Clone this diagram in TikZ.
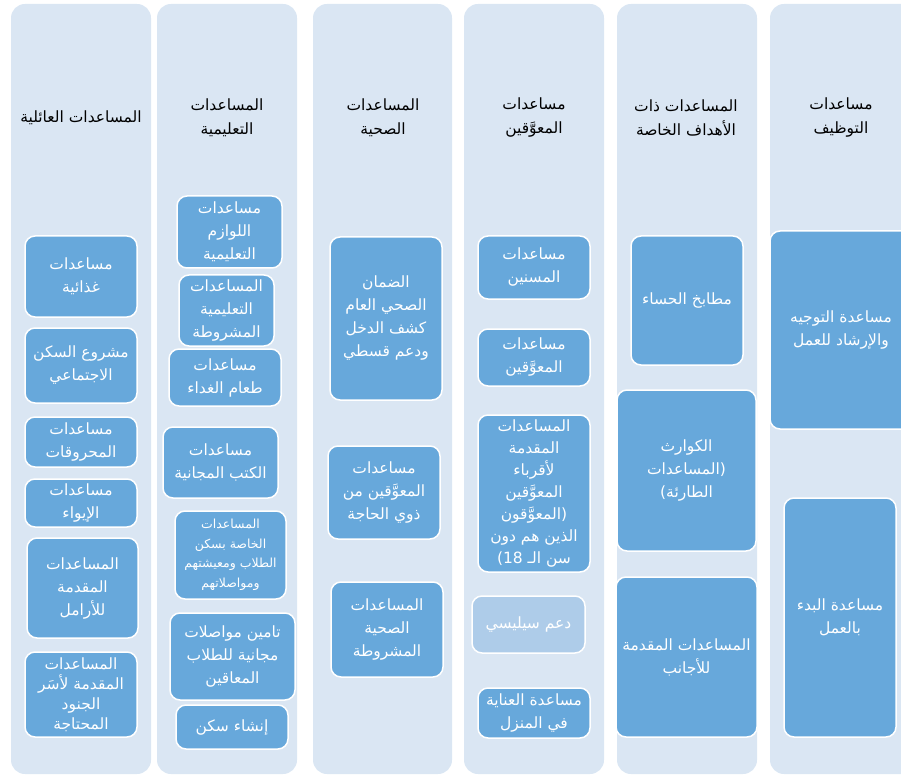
\documentclass[tikz,border=0pt]{standalone}
\usepackage{fontspec}
\newfontfamily\arabicfont[Script=Arabic]{DejaVu Sans}
\TeXXeTstate=1
\definecolor{colbg}{HTML}{DAE6F3}
\definecolor{boxblue}{HTML}{67A8DB}
\definecolor{boxlight}{HTML}{AECCE9}
\newcommand\ar[1]{\beginR #1\endR}
\tikzset{
  column/.style={fill=colbg, draw=none, rounded corners=14pt},
  box/.style={fill=boxblue, draw=white, line width=1.5pt, rounded corners=10pt, inner sep=0pt,
     text=white, shape=rectangle, align=center, font=\arabicfont\fontsize{15.5}{23}\selectfont},
  lightbox/.style={fill=boxlight},
  smalltext/.style={font=\arabicfont\fontsize{12.5}{19.5}\selectfont},
  tighttext/.style={font=\arabicfont\fontsize{15.5}{20}\selectfont},
  d3text/.style={font=\arabicfont\fontsize{15.5}{22}\selectfont},
  head/.style={inner sep=0pt, text=black, align=center, minimum width=120pt, minimum height=46pt,
     font=\arabicfont\fontsize{15.5}{24}\selectfont}
}
\newcommand\mybox[7][]{%
  \node[box,#1, minimum width={(#5-#3)*1pt}, minimum height={(#6-#4)*1pt}] (#2) at ({(#3+#5)/2},{(#4+#6)/2}) {#7};}
\begin{document}
\begin{tikzpicture}[x=1pt,y=-1pt]
\useasboundingbox (0,0) rectangle (901,775);
\clip (0,0) rectangle (901,775);
% columns
\path[column] (11,4) rectangle (151,774);
\path[column] (157,4) rectangle (297,774);
\path[column] (313,4) rectangle (452,774);
\path[column] (464,4) rectangle (604,774);
\path[column] (617,4) rectangle (757,774);
\path[column] (770,4) rectangle (916,774);
% headers
\node[head] (h1) at (81,118) {\ar{المساعدات العائلية}};
\node[head] (h2) at (227,118) {\ar{المساعدات}\\\ar{التعليمية}};
\node[head] (h3) at (383,118) {\ar{المساعدات}\\\ar{الصحية}};
\node[head] (h4) at (534,118) {\ar{مساعدات}\\\ar{المعوَّقين}};
\node[head] (h5) at (686,118) {\ar{المساعدات ذات}\\\ar{الأهداف الخاصة}};
\node[head] (h6) at (841,118) {\ar{مساعدات}\\\ar{التوظيف}};
% column 1
\mybox{a1}{25}{236}{137}{317}{\ar{مساعدات}\\\ar{غذائية}}
\mybox{a2}{25}{328}{137}{403}{\ar{مشروع السكن}\\\ar{الاجتماعي}}
\mybox{a3}{25}{417}{137}{467}{\ar{مساعدات}\\\ar{المحروقات}}
\mybox{a4}{25}{479}{137}{527}{\ar{مساعدات}\\\ar{الإيواء}}
\mybox{a5}{27}{538}{138}{638}{\ar{المساعدات}\\\ar{المقدمة}\\\ar{للأرامل}}
\mybox[tighttext]{a6}{25}{652}{137}{737}{\ar{المساعدات}\\\ar{المقدمة لأسَر}\\\ar{الجنود}\\\ar{المحتاجة}}
% column 2
\mybox{b1}{177}{196}{282}{268}{\ar{مساعدات}\\\ar{اللوازم}\\\ar{التعليمية}}
\mybox{b2}{179}{275}{274}{346}{\ar{المساعدات}\\\ar{التعليمية}\\\ar{المشروطة}}
\mybox{b3}{169}{349}{281}{406}{\ar{مساعدات}\\\ar{طعام الغداء}}
\mybox{b4}{163}{427}{278}{498}{\ar{مساعدات}\\\ar{الكتب المجانية}}
\mybox[smalltext]{b5}{175}{511}{286}{599}{\ar{المساعدات}\\\ar{الخاصة بسكن}\\\ar{الطلاب ومعيشتهم}\\\ar{ومواصلاتهم}}
\mybox{b6}{170}{613}{295}{700}{\ar{تامين مواصلات}\\\ar{مجانية للطلاب}\\\ar{المعاقين}}
\mybox{b7}{176}{705}{288}{749}{\ar{إنشاء سكن}}
% column 3
\mybox{c1}{330}{237}{442}{400}{\ar{الضمان}\\\ar{الصحي العام}\\\ar{كشف الدخل}\\\ar{ودعم قسطي}}
\mybox{c2}{328}{446}{440}{539}{\ar{مساعدات}\\\ar{المعوَّقين من}\\\ar{ذوي الحاجة}}
\mybox{c3}{331}{582}{443}{677}{\ar{المساعدات}\\\ar{الصحية}\\\ar{المشروطة}}
% column 4
\mybox{d1}{478}{236}{590}{299}{\ar{مساعدات}\\\ar{المسنين}}
\mybox{d2}{478}{329}{590}{386}{\ar{مساعدات}\\\ar{المعوَّقين}}
\mybox[d3text]{d3}{478}{415}{590}{572}{\ar{المساعدات}\\\ar{المقدمة}\\\ar{لأقرباء}\\\ar{المعوَّقين}\\\ar{(المعوَّقون}\\\ar{الذين هم دون}\\\ar{سن الـ \beginL 18\endL)}}
\mybox[lightbox]{d4}{472}{596}{585}{653}{\ar{دعم سيليسي}}
\mybox{d5}{478}{688}{590}{738}{\ar{مساعدة العناية}\\\ar{في المنزل}}
% column 5
\mybox{e1}{631}{236}{743}{365}{\ar{مطابخ الحساء}}
\mybox{e2}{617}{390}{756}{551}{\ar{الكوارث}\\\ar{(المساعدات}\\\ar{الطارئة)}}
\mybox{e3}{616}{577}{757}{737}{\ar{المساعدات المقدمة}\\\ar{للأجانب}}
% column 6
\mybox{f1}{770}{231}{912}{429}{\ar{مساعدة التوجيه}\\\ar{والإرشاد للعمل}}
\mybox{f2}{784}{498}{896}{737}{\ar{مساعدة البدء}\\\ar{بالعمل}}
\end{tikzpicture}
\end{document}
